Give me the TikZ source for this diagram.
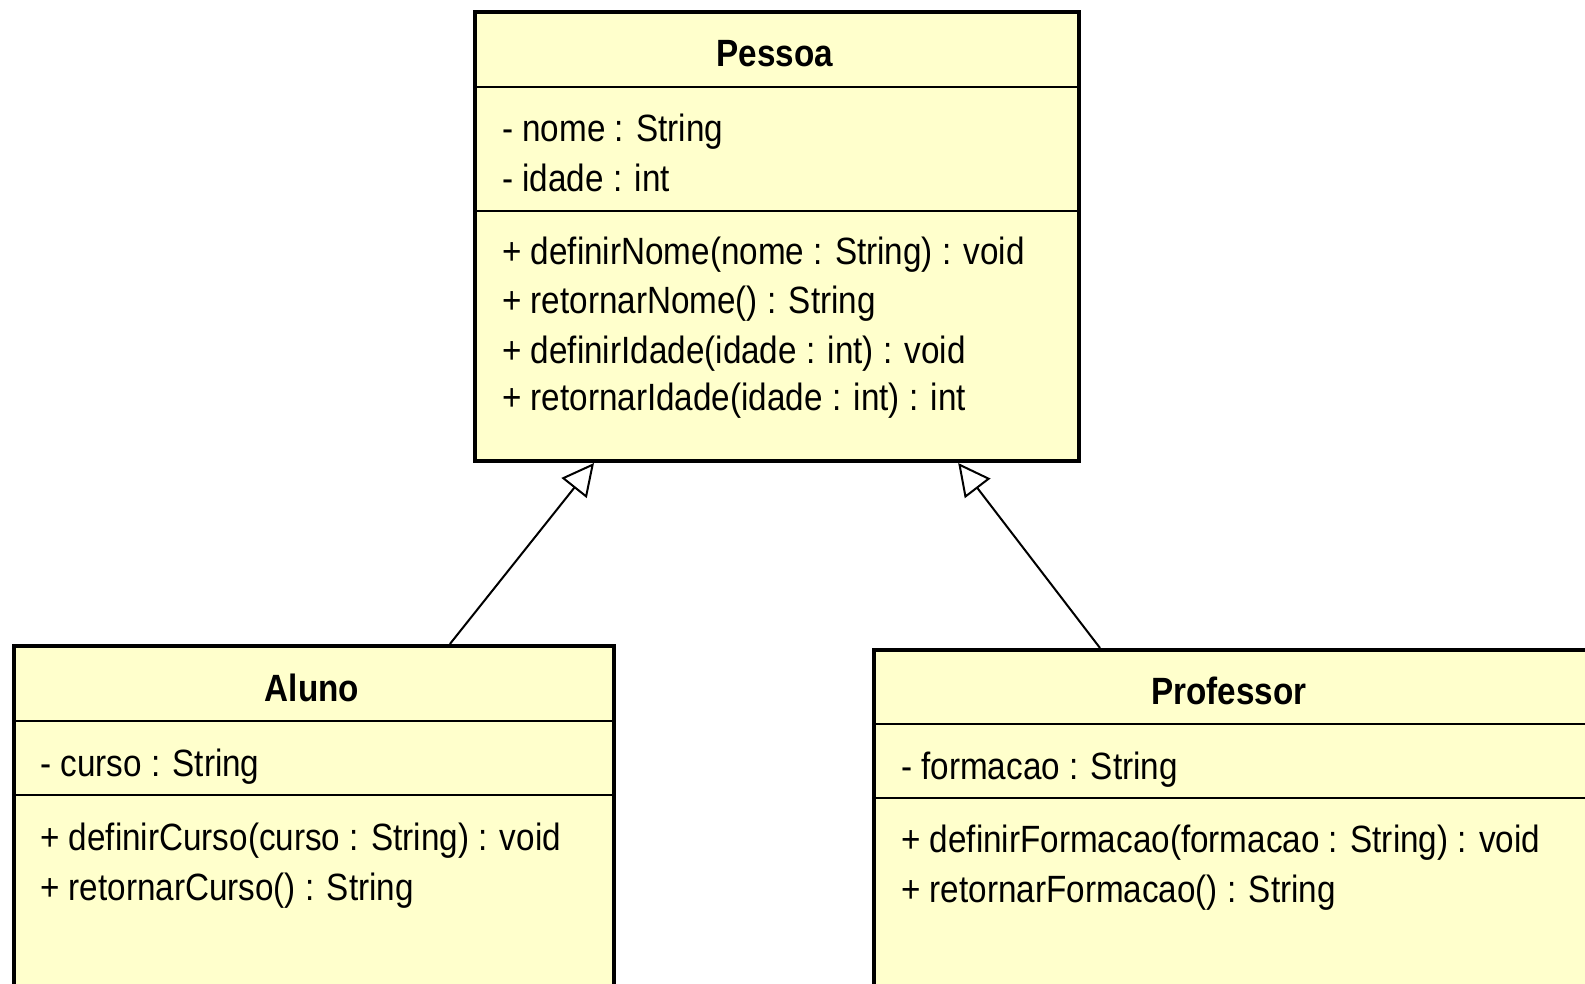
\documentclass[tikz,border=0pt]{standalone}
\usepackage{fontspec}
\setmainfont{Liberation Sans}[FakeStretch=0.875]
\usetikzlibrary{arrows.meta,calc}
\definecolor{umlfill}{RGB}{255,255,204}
\begin{document}
\begin{tikzpicture}[x=1pt,y=-1pt,
  cls/.style={draw=black, line width=4pt, fill=umlfill, rectangle, inner sep=0pt, anchor=north west},
  sepline/.style={line width=2pt},
  title/.style={font=\bfseries\fontsize{38}{44}\selectfont, inner sep=0pt, text height=0.72em, text depth=0pt, anchor=center},
  member/.style={font=\fontsize{38}{44}\selectfont, inner sep=0pt, text height=0.72em, text depth=0pt, anchor=west},
  gen/.style={line width=2pt, -{Triangle[open, fill=white, length=32pt, width=32pt, line width=2pt]}}
]
\useasboundingbox (0,0) rectangle (1585,984);
\clip (0,0) rectangle (1585,984);

% Pessoa
\node[cls, minimum width=604pt, minimum height=449pt] (pessoa) at (473,10) {};
\draw[sepline] (pessoa.west |- 0,87) -- (pessoa.east |- 0,87);
\draw[sepline] (pessoa.west |- 0,211) -- (pessoa.east |- 0,211);
\node[title] (pessoaT) at (775,63) {Pessoa};
\node[member] (pa1) at (502,138) {- nome : String};
\node[member] (pa2) at (502,188) {- idade : int};
\node[member] (pm1) at (502,261) {+ definirNome(nome : String) : void};
\node[member] (pm2) at (502,310) {+ retornarNome() : String};
\node[member] (pm3) at (502,360) {+ definirIdade(idade : int) : void};
\node[member] (pm4) at (502,407) {+ retornarIdade(idade : int) : int};

% Aluno
\node[cls, minimum width=600pt, minimum height=400pt] (aluno) at (12,644) {};
\draw[sepline] (aluno.west |- 0,721) -- (aluno.east |- 0,721);
\draw[sepline] (aluno.west |- 0,795) -- (aluno.east |- 0,795);
\node[title] (alunoT) at (312,698) {Aluno};
\node[member] (aa1) at (40,773) {- curso : String};
\node[member] (am1) at (40,847) {+ definirCurso(curso : String) : void};
\node[member] (am2) at (40,897) {+ retornarCurso() : String};

% Professor
\node[cls, minimum width=760pt, minimum height=400pt] (prof) at (872,648) {};
\draw[sepline] (prof.west |- 0,724) -- (prof.east |- 0,724);
\draw[sepline] (prof.west |- 0,798) -- (prof.east |- 0,798);
\node[title] (profT) at (1229,701) {Professor};
\node[member] (fa1) at (901,776) {- formacao : String};
\node[member] (fm1) at (901,849) {+ definirFormacao(formacao : String) : void};
\node[member] (fm2) at (901,899) {+ retornarFormacao() : String};

% Generalizations
\coordinate (pL) at ($(pessoa.south west)!0.199!(pessoa.south east)$);
\coordinate (pR) at ($(pessoa.south west)!0.798!(pessoa.south east)$);
\coordinate (aT) at ($(aluno.north west)!0.725!(aluno.north east)$);
\coordinate (fT) at (prof.north west -| 1100,0);
\draw[gen] (aT) -- (pL);
\draw[gen] (fT) -- (pR);
\end{tikzpicture}
\end{document}
